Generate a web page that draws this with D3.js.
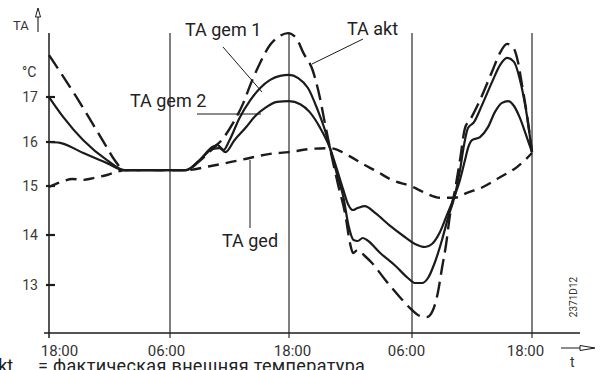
<!DOCTYPE html>
<html>
<head>
<meta charset="utf-8">
<script src="https://cdn.jsdelivr.net/npm/d3@7"></script>
<style>
  html, body { margin: 0; padding: 0; background: #fff; }
  svg { display: block; font-family: Roboto, "DejaVu Sans", sans-serif; }
</style>
</head>
<body>
<div id="chart"></div>
<script>
// time axis (hours from first 18:00) and temperature ticks
const tickHours = [0, 12, 24, 36, 48];
const timeLabels = ["18:00", "06:00", "18:00", "06:00", "18:00"];
const tempTicks = [13, 14, 15, 16, 17];

// series as [hour, °C]
const taAkt = [
  [0, 17.93], [1.3, 17.49], [2.6, 17.04], [4.1, 16.49], [5.6, 15.93], [6.5, 15.59], [7.5, 15.36],
  [13.6, 15.36], [15.0, 15.57], [16.5, 15.89], [17.2, 16.04], [18.35, 16.42], [19.4, 16.87],
  [20.1, 17.27], [20.9, 17.67], [22.1, 18.16], [23.1, 18.36], [23.9, 18.42], [24.7, 18.31],
  [25.4, 17.98], [26.3, 17.6], [27.0, 17.0], [27.5, 16.42], [28.0, 15.86], [28.8, 15.02],
  [29.5, 14.41], [29.95, 13.84], [30.25, 13.64], [30.7, 13.7], [31.4, 13.58], [32.1, 13.44],
  [33.4, 13.1], [34.8, 12.76], [36.0, 12.5], [36.8, 12.38], [37.5, 12.36], [38.1, 12.5],
  [38.6, 12.86], [39.0, 13.34], [39.4, 13.8], [39.8, 14.41], [40.3, 14.92], [40.8, 15.59],
  [41.3, 16.31], [41.8, 16.49], [42.8, 16.93], [44.0, 17.56], [44.8, 17.98], [45.5, 18.18],
  [46.1, 18.11], [46.6, 17.78], [47.0, 17.27], [47.5, 16.6], [48, 15.77]
];
const taGem1 = [
  [0, 17.0], [1.4, 16.56], [3.4, 16.04], [5.75, 15.59], [7.5, 15.36],
  [13.6, 15.36], [15.0, 15.59], [16.3, 15.89], [16.8, 15.93], [17.4, 15.82], [18.0, 16.04],
  [19.0, 16.53], [20.1, 16.93], [21.1, 17.2], [22.1, 17.38], [23.1, 17.47], [24, 17.49],
  [24.9, 17.42], [25.85, 17.2], [26.8, 16.71], [27.5, 16.27], [28.0, 15.86], [28.7, 15.25],
  [29.3, 14.78], [29.8, 14.2], [30.3, 13.9], [30.7, 13.88], [31.2, 13.94], [31.6, 13.9],
  [32.9, 13.64], [34.4, 13.38], [35.6, 13.14], [36.3, 13.04], [37.0, 13.04], [37.6, 13.14],
  [38.3, 13.46], [39.0, 13.9], [39.6, 14.35], [40.3, 14.82], [40.8, 15.36], [41.2, 15.93],
  [41.6, 16.31], [42.2, 16.44], [43.0, 16.82], [44.0, 17.33], [44.8, 17.71], [45.5, 17.87],
  [46.2, 17.78], [46.8, 17.38], [47.4, 16.71], [48, 15.77]
];
const taGem2 = [
  [0, 16.0], [1.1, 15.98], [3.4, 15.75], [5.75, 15.52], [7.5, 15.36],
  [13.6, 15.36], [15.0, 15.59], [16.3, 15.84], [17.0, 15.86], [17.6, 15.77], [18.5, 16.04],
  [19.6, 16.31], [20.6, 16.58], [21.6, 16.76], [22.8, 16.89], [24, 16.91], [25.1, 16.84],
  [26.0, 16.67], [27.0, 16.33], [28.0, 15.86], [28.7, 15.36], [29.3, 14.92], [29.8, 14.61],
  [30.2, 14.51], [30.7, 14.55], [31.4, 14.59], [32.4, 14.45], [33.9, 14.18], [35.3, 13.96],
  [36.3, 13.82], [37.3, 13.76], [38.0, 13.82], [38.8, 14.06], [39.5, 14.41], [40.3, 14.82],
  [40.8, 15.14], [41.3, 15.59], [41.6, 15.86], [42.0, 16.04], [42.8, 16.11], [43.6, 16.33],
  [44.3, 16.67], [45.0, 16.87], [45.6, 16.91], [46.2, 16.8], [46.8, 16.53], [47.4, 16.16],
  [48, 15.77]
];
const taGed = [
  [0, 14.98], [0.7, 15.05], [1.4, 15.11], [2.3, 15.16], [3.4, 15.14], [4.4, 15.18],
  [5.75, 15.25], [7.0, 15.34], [7.5, 15.36], [13.6, 15.36], [16.0, 15.45], [19.1, 15.59],
  [22.1, 15.73], [24, 15.77], [26.0, 15.84], [28.0, 15.86], [29.9, 15.68], [31.2, 15.5],
  [32.5, 15.34], [34.0, 15.14], [36.1, 14.98], [37.3, 14.86], [38.8, 14.76], [40.3, 14.76],
  [41.5, 14.86], [43.1, 14.98], [44.8, 15.2], [46.5, 15.43], [48, 15.75]
];

const width = 605, height = 370;
const plotTop = 33, axisY = 333;

const svg = d3.select("#chart").append("svg")
  .attr("width", width)
  .attr("height", height);

// scales (piecewise to follow the printed tick spacing)
const x = d3.scaleLinear().domain(tickHours).range([49, 170, 289, 412, 532]);
const y = d3.scaleLinear().domain(tempTicks).range([285, 235, 186, 142, 97]);

const ink = "#1b1b1b";

// vertical time lines
svg.selectAll(".vline")
  .data(tickHours)
  .enter().append("line")
  .attr("x1", d => x(d)).attr("x2", d => x(d))
  .attr("y1", plotTop).attr("y2", axisY + 5)
  .style("stroke", "#2a2a2a")
  .style("stroke-width", d => d === 0 ? 1.6 : 1.2);

// x axis base line
svg.append("line")
  .attr("x1", 44).attr("x2", 580)
  .attr("y1", axisY).attr("y2", axisY)
  .style("stroke", ink).style("stroke-width", 1.6);

// time labels (printed slightly off their lines in the original)
const labelDx = [10, -4, 3, -6, -7];
const xAxis = d3.axisBottom(x).tickValues(tickHours)
  .tickFormat((d, i) => timeLabels[i]).tickSize(0).tickPadding(0);
const gx = svg.append("g").attr("transform", `translate(0,${axisY})`).call(xAxis);
gx.select(".domain").remove();
gx.selectAll("text")
  .attr("dy", null)
  .attr("y", 23)
  .attr("dx", (d, i) => labelDx[i])
  .style("font-family", "Roboto, sans-serif")
  .style("font-size", "15px")
  .style("fill", "#333");

// y axis labels and crossing ticks
const yAxis = d3.axisLeft(y).tickValues(tempTicks).tickFormat(d3.format("d"))
  .tickSize(0).tickPadding(11);
const gy = svg.append("g").attr("transform", `translate(${x(0)},0)`).call(yAxis);
gy.select(".domain").remove();
gy.selectAll("text")
  .style("font-family", "Roboto, sans-serif")
  .style("font-size", "14px")
  .style("fill", "#3a3a3a");
svg.selectAll(".ytick")
  .data(tempTicks)
  .enter().append("line")
  .attr("x1", x(0) - 3).attr("x2", x(0) + 6)
  .attr("y1", d => y(d)).attr("y2", d => y(d))
  .style("stroke", ink).style("stroke-width", 2.2);

// unit and axis titles
svg.append("text").attr("x", 22).attr("y", 77).text("°C")
  .style("font-size", "14px").style("fill", "#333");
svg.append("text").attr("x", 13).attr("y", 30).text("TA")
  .style("font-size", "13px").style("fill", "#333");
svg.append("line").attr("x1", 38).attr("x2", 38).attr("y1", 32).attr("y2", 9)
  .style("stroke", ink).style("stroke-width", 1.1);
svg.append("path").attr("d", "M35.5,17 L38,8 L40.5,17 Z")
  .style("fill", "#fff").style("stroke", ink).style("stroke-width", 1);

svg.append("text").attr("x", 570).attr("y", 367).text("t")
  .style("font-size", "14px").style("fill", "#333");
svg.append("line").attr("x1", 561).attr("x2", 594).attr("y1", 348).attr("y2", 348)
  .style("stroke", ink).style("stroke-width", 1.1);
svg.append("path").attr("d", "M580,345.5 L595,348 L580,350.5 Z")
  .style("fill", "#fff").style("stroke", ink).style("stroke-width", 1);

svg.append("text")
  .attr("transform", "translate(577,297) rotate(-90)")
  .attr("text-anchor", "middle")
  .text("2371D12")
  .style("font-size", "10px").style("fill", "#333");

// footnote, cut by the bottom edge as in the original
svg.append("text").attr("x", 18).attr("y", 372).attr("text-anchor", "end").text("TA akt.")
  .style("font-size", "18px").style("fill", "#222");
svg.append("text").attr("x", 38).attr("y", 372).text("= фактическая внешняя температура")
  .style("font-size", "18px").style("letter-spacing", "0.35px").style("fill", "#222");

// curves
const line = d3.line()
  .x(d => x(d[0]))
  .y(d => y(d[1]))
  .curve(d3.curveMonotoneX);

const series = [
  { data: taGed, dash: "11,7", w: 2.4 },
  { data: taGem2, dash: null, w: 2.2 },
  { data: taGem1, dash: null, w: 2.2 },
  { data: taAkt, dash: "16,7", w: 2.4 }
];
series.forEach(s => {
  svg.append("path")
    .datum(s.data)
    .attr("d", line)
    .style("fill", "none")
    .style("stroke", ink)
    .style("stroke-width", s.w)
    .style("stroke-dasharray", s.dash)
    .style("stroke-linejoin", "round");
});

// curve names with leader lines
const leader = (x1, y1, x2, y2) => svg.append("line")
  .attr("x1", x1).attr("y1", y1).attr("x2", x2).attr("y2", y2)
  .style("stroke", ink).style("stroke-width", 1);
leader(223, 47, 262, 92);
leader(363, 39, 312, 64);
leader(197, 114, 261, 114);
leader(250, 160, 250, 228);

const name = (tx, ty, t) => svg.append("text").attr("x", tx).attr("y", ty).text(t)
  .style("font-size", "18px").style("fill", "#222");
name(185, 36, "TA gem 1");
name(347, 35, "TA akt");
name(130, 107, "TA gem 2");
name(222, 247, "TA ged");
</script>
</body>
</html>
